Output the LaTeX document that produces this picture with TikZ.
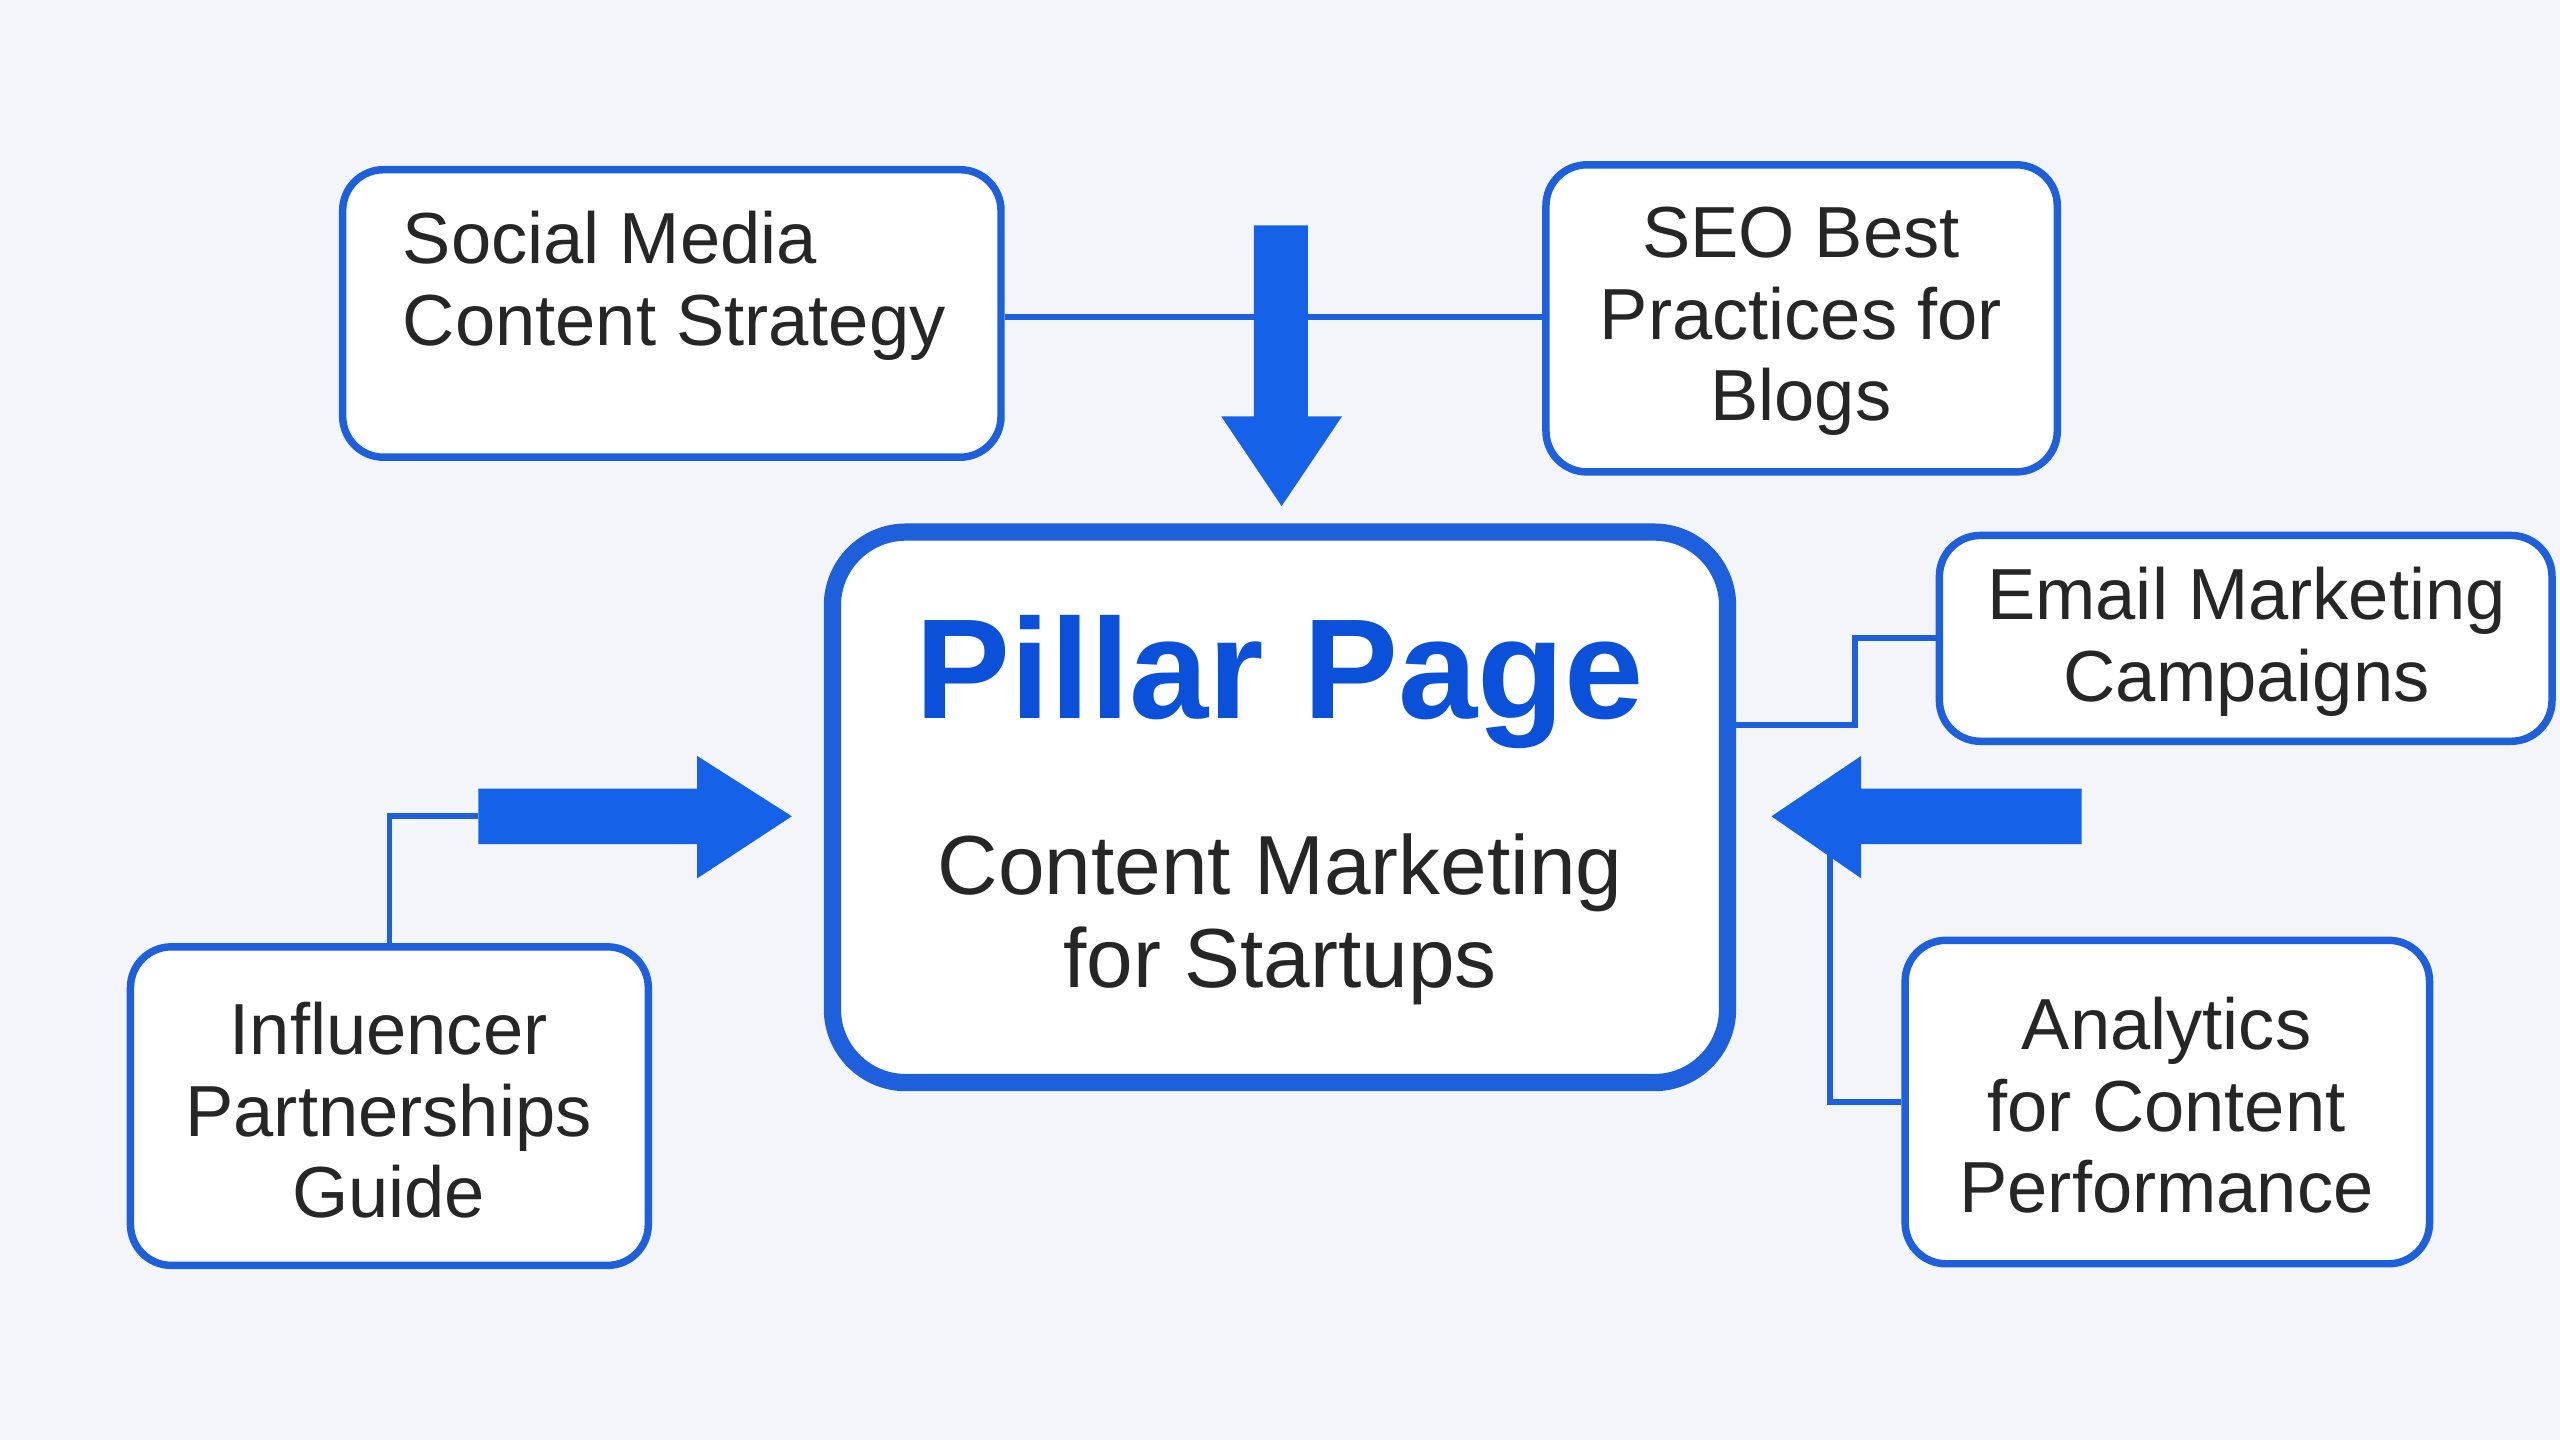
\documentclass[tikz,border=0pt]{standalone}
\usepackage{fontspec}
\setmainfont{Liberation Sans}
\begin{document}
\begin{tikzpicture}[x=0.01cm,y=-0.01cm,
  box/.style={draw=lineblue,line width=1.3pt,fill=white,rounded corners=0.25cm,inner sep=0pt},
  conn/.style={draw=lineblue,line width=1pt},
  arr/.style={fill=arrblue,draw=none},
  lbl/.style={font=\fontsize{12.6}{14.2}\selectfont,align=center,text=black!85,inner sep=0pt}]
\definecolor{lineblue}{HTML}{1E5FDC}
\definecolor{arrblue}{HTML}{1562E8}
\definecolor{pillblue}{HTML}{0B50D8}
\definecolor{bg}{HTML}{F3F5F9}
\fill[bg] (0,0) rectangle (1568,882);
\useasboundingbox (0,0) rectangle (1568,882);
% boxes
\node[box,minimum width=4.03cm,minimum height=1.76cm] (soc) at (411.5,192) {};
\node[lbl,align=left,anchor=west] (soct) at (246,175) {Social Media\\Content Strategy};
\node[box,minimum width=3.13cm,minimum height=1.88cm] (seo) at (1103.5,195) {};
\node[lbl] (seot) at (1103,197) {SEO Best\\Practices for\\Blogs};
\node[box,minimum width=3.75cm,minimum height=1.26cm] (email) at (1375.5,391) {};
\node[lbl] (emailt) at (1376,393) {Email Marketing\\Campaigns};
\node[box,minimum width=3.21cm,minimum height=1.98cm] (ana) at (1327.5,675) {};
\node[lbl] (anat) at (1327,677) {Analytics\\for Content\\Performance};
\node[box,minimum width=3.17cm,minimum height=1.95cm] (inf) at (238.5,677.5) {};
\node[lbl] (inft) at (238,680) {Influencer\\Partnerships\\Guide};
\node[draw=lineblue,line width=3pt,fill=white,rounded corners=0.45cm,minimum width=5.48cm,minimum height=3.37cm] (pil) at (784,494.5) {};
\node[font=\fontsize{24.8}{26}\selectfont\bfseries,text=pillblue] (pilt) at (784,418) {Pillar Page};
\node[font=\fontsize{14.6}{16.2}\selectfont,align=center,text=black!85] (pils) at (784,563) {Content Marketing\\for Startups};
% connectors
\coordinate (sl) at (700,194);
\coordinate (ec) at (1136,444);
\coordinate (ac) at (1121,517);
\coordinate (ic) at (293,500);
\draw[conn] (soc.east |- sl) -- (seo.west |- sl);
\draw[conn] (pil.east |- ec) -- (ec) |- (email.west);
\draw[conn] (ana.west) -| (ac);
\draw[conn] (inf.north) |- (ic);
% arrows
\fill[arr] (768,138) -- (801,138) -- (801,255) -- (822,255) -- (785,310) -- (748,255) -- (768,255) -- cycle;
\fill[arr] (293,483) -- (427,483) -- (427,463) -- (485,500) -- (427,538) -- (427,517) -- (293,517) -- cycle;
\fill[arr] (1275,483) -- (1140,483) -- (1140,463) -- (1085,500) -- (1140,538) -- (1140,517) -- (1275,517) -- cycle;
\end{tikzpicture}
\end{document}
